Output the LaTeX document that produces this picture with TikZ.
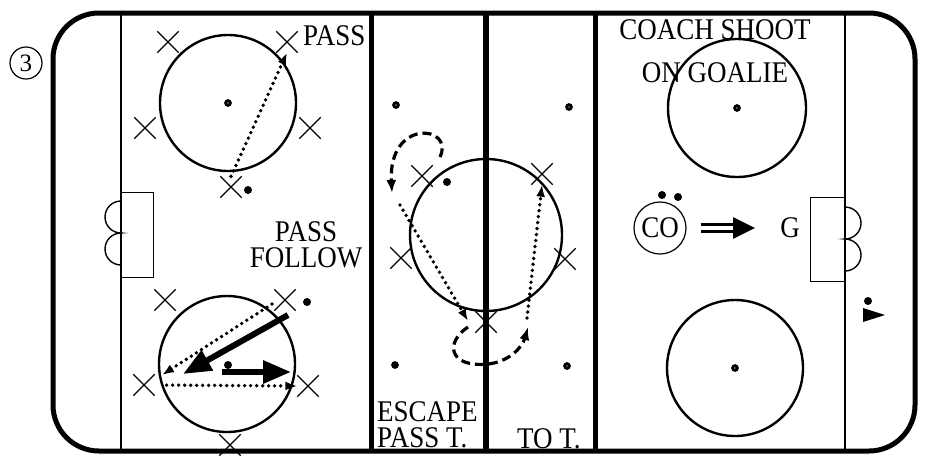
\documentclass[tikz,border=0pt]{standalone}
\usepackage{fontspec}
\setmainfont{Liberation Serif}
\newfontfamily\rinkfont[FakeStretch=0.9]{Liberation Serif}
\usetikzlibrary{arrows.meta,shapes.misc}

\begin{document}
\begin{tikzpicture}[
  x=1pt, y=-1pt,
  lbl/.style={font=\rinkfont\fontsize{30}{26.5}\selectfont, inner sep=0pt},
  player/.style={draw, cross out, line width=1.3pt, minimum size=20pt, inner sep=0pt},
  zone/.style={draw, circle, line width=2.4pt, minimum size=136pt, inner sep=0pt},
  spot/.style={draw, circle, line width=3pt, minimum size=4.5pt, inner sep=0pt},
  puck/.style={fill, circle, minimum size=8pt, inner sep=0pt},
  pass/.style={line width=3.8pt, dash pattern=on 0pt off 6pt, line cap=round,
               -{Latex[length=12pt,width=9pt]}},
  skate/.style={line width=3.2pt, dash pattern=on 9pt off 5pt,
                -{Latex[length=13pt,width=10pt]}},
  carry/.style={line width=6pt, -{Triangle[length=28pt,width=22pt]}},
  shot/.style={line width=3pt, double distance=4pt, -{Triangle[length=22pt,width=21pt]}}]
\useasboundingbox (0,0) rectangle (925,456);
% rink and lines
\draw[line width=5pt, rounded corners=46pt] (53,13) rectangle (915,451);
\draw[line width=1.8pt] (121,13) -- (121,451);
\draw[line width=1.8pt] (845,13) -- (845,451);
\node[zone] (tlcircle) at (228,103) {};
\node[zone] (blcircle) at (227,364) {};
\node[zone, minimum size=152pt] (centre) at (486,235) {};
\node[zone, minimum size=138pt] (trcircle) at (737,108) {};
\node[zone] (brcircle) at (735,368) {};
\draw[line width=5pt] (371,13) -- (371,451);
\draw[line width=6pt] (486,13) -- (486,451);
\draw[line width=5pt] (595,13) -- (595,451);
% goals
\draw[line width=1pt] (121,192) rectangle (153,277);
\draw[line width=1.4pt] (121,201) arc[start angle=90, end angle=270, radius=16pt]
  arc[start angle=90, end angle=270, radius=16pt];
\draw[line width=1pt] (845,197) rectangle (810,281);
\draw[line width=1.4pt] (845,207) arc[start angle=90, end angle=-90, radius=16pt]
  arc[start angle=90, end angle=-90, radius=16pt];
% faceoff spots
\node[spot] (spot1) at (228,103) {};
\node[spot] (spot2) at (396,105) {};
\node[spot] (spot3) at (569,107) {};
\node[spot, fill] (spot4) at (395,365) {};
\node[spot] (spot5) at (567,366) {};
\node[spot] (spot6) at (737,108) {};
\node[spot] (spot7) at (735,368) {};
% players
\node[player] (tl1) at (168,42) {};
\node[player] (tl2) at (287,42) {};
\node[player] (tl3) at (145,128) {};
\node[player] (tl4) at (310,128) {};
\node[player] (tl5) at (231,187) {};
\node[player] (bl1) at (165,300) {};
\node[player] (bl2) at (285,300) {};
\node[player] (bl3) at (144,385) {};
\node[player] (bl4) at (308,386) {};
\node[player] (bl5) at (230,445) {};
\node[player] (ct1) at (422,176) {};
\node[player] (ct2) at (542,174) {};
\node[player] (ct3) at (401,258) {};
\node[player] (ct4) at (565,259) {};
\node[player] (ct5) at (486,322) {};
% pucks
\node[puck] (pk1) at (248,190) {};
\node[puck] (pk2) at (307,302) {};
\node[puck] (pk3) at (228,365) {};
\node[puck] (pk4) at (447,182) {};
\node[puck] (pk5) at (662,195) {};
\node[puck] (pk6) at (678,197) {};
\node[puck] (pk7) at (868,301) {};
\fill (863,308) -- (885,315) -- (863,322) -- cycle;
% labels
\node[draw, circle, line width=1.2pt, minimum size=32pt, lbl, font=\fontsize{25}{25}\selectfont] (drill) at (26,63) {3};
\node[lbl, anchor=base west] (passlbl) at (303,45) {PASS};
\node[lbl, align=center, anchor=south, text depth=0pt] (follow) at (306,268) {PASS\\FOLLOW};
\node[lbl, align=left, anchor=south west, text depth=0pt] (escape) at (377,448) {ESCAPE\\PASS T.};
\node[lbl, anchor=base west] (tot) at (517,448) {TO T.};
\node[lbl, align=center, anchor=south, text depth=0pt] (shoot) at (715,83) {COACH SHOOT\\[17pt]ON GOALIE};
\node[draw, circle, line width=1.2pt, minimum size=52pt, lbl] (coach) at (660,228) {CO};
\node[lbl] (goalie) at (790,228) {G};
% arrow ends
\coordinate (dgA) at (272,304);
\coordinate (dgB) at (162,375);
\coordinate (fwA) at (288,315);
\coordinate (fwB) at (183,374);
\coordinate (cyA) at (222,372);
\coordinate (cyB) at (291,372);
\coordinate (esA) at (400,205);
\coordinate (esB) at (468,321);
\coordinate (lpA) at (440,157);
\coordinate (lpB) at (392,193);
\coordinate (tuA) at (468,327);
\coordinate (tuB) at (528,327);
\coordinate (upA) at (527,318);
% drill paths
\draw[pass] (tl5.north) -- (tl2.south);
\draw[pass] (dgA) -- (dgB);
\draw[carry] (fwA) -- (fwB);
\draw[carry] (cyA) -- (cyB);
\draw[pass, shorten <=12pt] (bl3.east) -- (bl4.west);
\draw[skate] (lpA) .. controls (455,125) and (388,118) .. (lpB);
\draw[pass] (esA) -- (esB);
\draw[skate] (tuA) .. controls (445,342) and (448,368) .. (488,364)
  .. controls (508,362) and (522,348) .. (tuB);
\draw[pass] (upA) -- (ct2.south);
\draw[shot, shorten <=14pt, shorten >=25pt] (coach) -- (goalie);
\end{tikzpicture}
\end{document}
